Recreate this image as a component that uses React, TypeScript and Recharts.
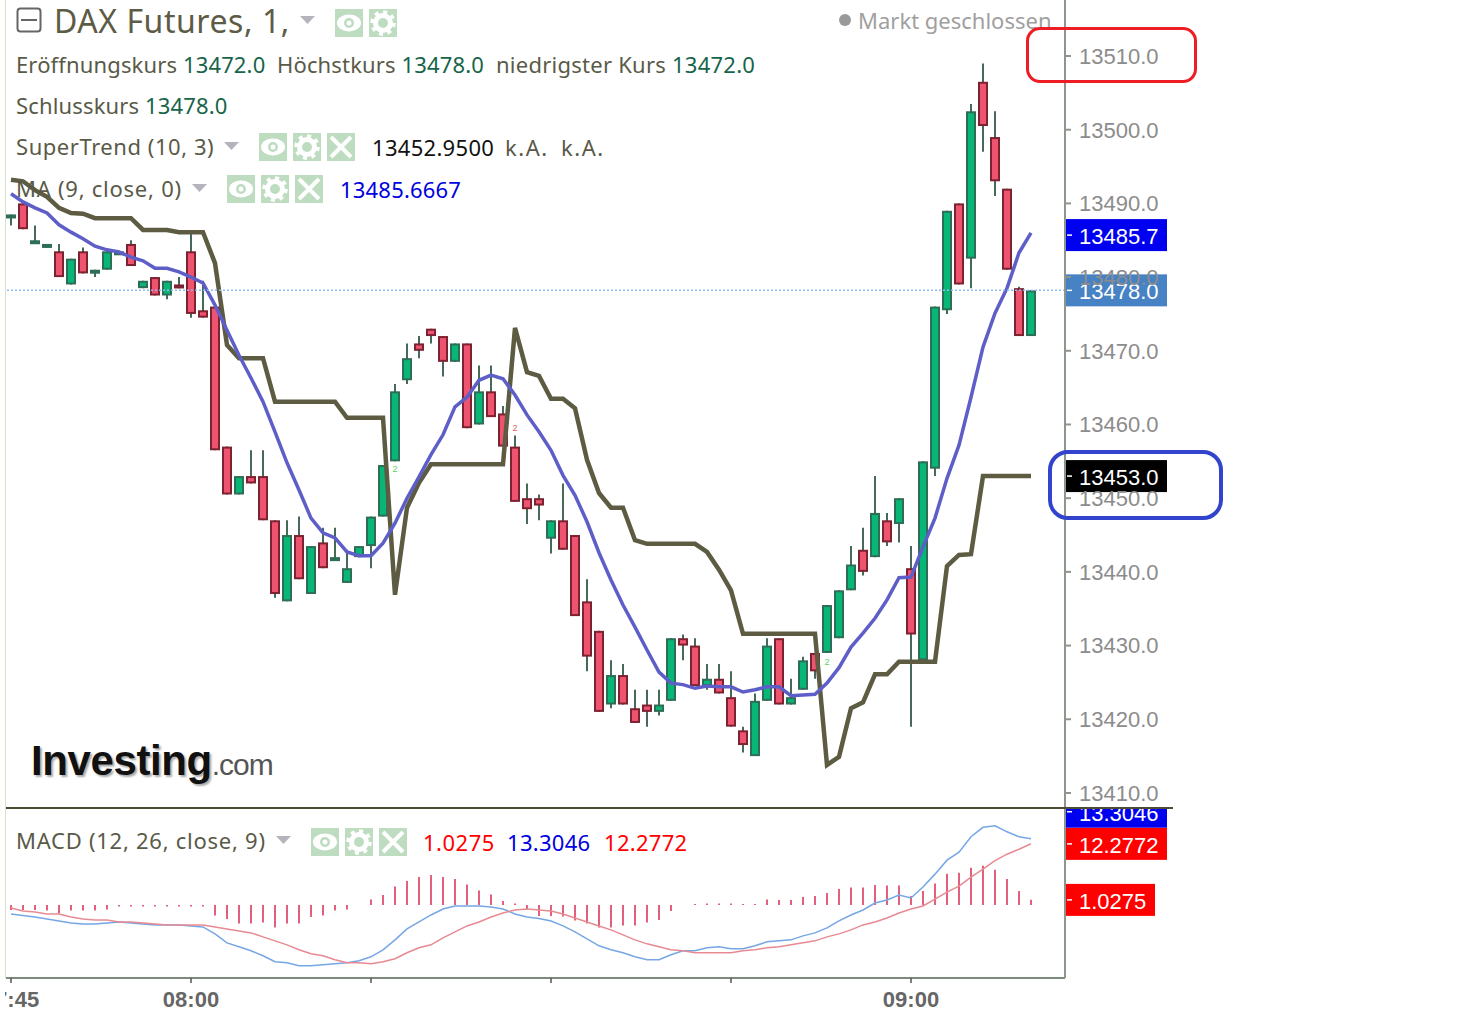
import React from "react";
import { ComposedChart, Bar, Line, XAxis, YAxis, ReferenceLine, ReferenceDot } from "recharts";

const opens = [13488,13490,13484.5,13484,13483.5,13479,13483.5,13480.5,13481,13483,13484.5,13478.5,13480,13477.5,13479,13483.5,13475.5,13476,13457,13450.5,13453,13453,13447,13436,13445,13437,13444,13441.5,13438.5,13442,13443.5,13447.5,13455,13466,13471,13473,13472,13468.5,13471,13460,13464.5,13461.5,13457,13450,13450,13444.5,13447,13445,13436,13432,13422,13426,13421.5,13422,13421,13422.5,13431,13430,13424.5,13425.5,13423,13418.5,13415,13422.5,13431,13422,13424,13429,13429,13431,13437.5,13443,13442,13447,13446.5,13440.5,13428,13454,13475.5,13490,13482.5,13506.5,13499,13492,13478.5,13472];
const highs = [13488.5,13490,13487,13484.5,13484.5,13482.5,13484,13481,13483.5,13483.5,13485,13479.5,13480,13479.5,13480,13486,13479.5,13476,13457,13453,13456.5,13456.5,13447,13447,13447.5,13443.5,13446,13446,13443,13443.5,13447.5,13454.5,13465.5,13471,13472,13473,13472,13471,13471,13468,13468,13462.5,13458.5,13452,13450.5,13447,13452,13445,13439,13432,13428,13427.5,13424,13424,13424,13431,13431.5,13431,13427.5,13427.5,13426.5,13419,13423.5,13431,13431,13425.5,13428.5,13429,13435.5,13437.5,13443.5,13446,13453,13448,13450,13443.5,13455,13476,13489,13490,13503.5,13509,13502.5,13492,13478.7,13478.2];
const lows = [13487,13486.5,13484.5,13484,13480,13479,13480.5,13480,13481,13483,13481.5,13478.5,13477.5,13477,13478.5,13474.5,13474.5,13456.5,13450.5,13450.5,13452,13447,13436.5,13436,13439,13437,13440.5,13441.5,13438.5,13442,13440.5,13447.5,13455,13465.5,13469,13471,13466.5,13468.5,13459.5,13460,13461,13457,13449.5,13446.5,13447,13442.5,13443,13434,13426.5,13421,13421.5,13422,13419.5,13419,13420.5,13422.5,13428,13424.5,13424,13423.5,13419,13415.5,13415,13422.5,13422,13422,13424,13425.5,13429,13431,13437.5,13439.5,13442,13443.5,13444,13419,13428,13453,13475,13479,13478.5,13497,13491,13481,13472,13472];
const closes = [13488.5,13486.5,13485,13484.5,13480,13482.5,13480.5,13481,13483.5,13483.5,13481.5,13479.5,13477.5,13479.5,13478.5,13475,13474.5,13456.5,13450.5,13453,13452,13447,13437,13445,13439,13443.5,13440.5,13442,13440.5,13443.5,13447.5,13454.5,13464.5,13469,13470,13472,13468.5,13471,13459.5,13464.5,13461,13457,13449.5,13448.5,13449,13447,13443,13434,13428.5,13421,13426,13422,13419.5,13421,13422,13431,13430,13424.5,13425.5,13423.5,13419,13416.5,13422.5,13430,13422,13423,13428,13426.5,13435.5,13437.5,13441,13440,13448,13444,13450,13431.5,13455,13476,13489,13479,13502.5,13500.5,13493,13481,13472,13478.2];
const superTrend = [13493.2,13493,13491.8,13490.9,13489.4,13488.7,13488.6,13488,13488,13488,13488,13486.4,13486.4,13486.4,13486.1,13486.1,13486.1,13481.9,13470.8,13469,13469,13469,13463.1,13463.1,13463.1,13463.1,13463.1,13463.1,13460.9,13460.9,13460.9,13460.9,13436.9,13448.7,13452.1,13454.6,13454.6,13454.6,13454.6,13454.6,13454.6,13454.6,13473.1,13467.1,13466.6,13463.5,13463.5,13462.2,13455.2,13450.7,13448.7,13448.7,13444.3,13443.8,13443.8,13443.8,13443.8,13443.8,13442.7,13440.3,13437.5,13431.6,13431.6,13431.6,13431.6,13431.6,13431.6,13431.6,13413.8,13414.9,13421.5,13422.3,13426.1,13426.1,13427.8,13427.8,13427.8,13427.8,13440.8,13442.3,13442.4,13453,13453,13453,13453,13453];
const movingAverage = [13491.3,13490.2,13489.4,13488.7,13487.1,13486.1,13485.2,13484.2,13483.7,13483.4,13482.7,13482.2,13481.2,13481.2,13480.7,13480,13479.2,13476.2,13472.8,13469.4,13466.3,13463.1,13459,13454.8,13451.1,13447.3,13445.3,13444.6,13442.7,13442.2,13442.2,13443.9,13446.6,13450,13452.9,13455.9,13458.6,13462.4,13463.7,13466,13466.7,13466.2,13464,13461.3,13459,13456.5,13453.1,13450.4,13446.8,13442.6,13438.9,13435.5,13432.5,13429.4,13426.4,13424.9,13424.7,13424.2,13424.5,13424.4,13424.4,13423.7,13424,13424.4,13424.4,13423.2,13423.3,13423.4,13424.9,13427,13429.8,13431.7,13433.7,13436.2,13439.2,13439.3,13443.4,13447.3,13452.7,13457.2,13463.7,13470.5,13475.1,13478.5,13483.3,13486];
const macdLine = [-1.8,-2.1,-2.4,-2.8,-3.2,-3.6,-3.8,-3.8,-3.6,-3.4,-3.6,-3.8,-4,-4,-4,-4.2,-4.4,-5.8,-7.6,-8.4,-9.2,-10.2,-11.4,-11.6,-12.2,-12.2,-12,-11.8,-11.6,-11.2,-10.4,-9,-7,-4.8,-3.4,-2,-0.8,-0.2,-0.2,-0.2,-0.4,-0.8,-1.8,-2.4,-2.7,-3.2,-4.2,-5.4,-6.8,-8.2,-9,-9.6,-10.4,-11,-11,-10,-9.2,-9.2,-8.6,-8.4,-8.8,-8.8,-8.2,-7.4,-7.2,-7,-6.2,-5.6,-4.6,-3.2,-2,-1,0.4,1,2,1.4,3.6,6.2,9,10.6,13.7,15.6,15.9,14.7,13.7,13.3];
const signalLine = [-0.6,-1.2,-1.4,-1.8,-1.8,-2.4,-2.8,-3,-3,-3.4,-3.4,-3.6,-3.8,-4,-4,-4,-4,-4.4,-4.8,-5.2,-5.6,-6.4,-7.2,-8,-9,-9.8,-10.2,-11,-11.6,-11.6,-11.8,-11.4,-10.8,-9.6,-8.6,-8,-6.6,-5.4,-4.2,-3.4,-2.4,-1.6,-1,-0.8,-1,-1.2,-1.8,-2.6,-3.4,-4.2,-5,-6,-7,-7.8,-8.4,-9,-9.2,-9.6,-9.6,-9.6,-9.6,-9.2,-9,-8.6,-8.4,-8,-7.6,-7.2,-6.4,-5.8,-5,-4,-3.4,-2.6,-1.6,-0.8,-0.2,1.2,2.6,3.8,5.6,7.2,8.9,10.2,11.2,12.3];
const histogram = [-1,-1,-1,-1.1,-1.7,-1.1,-1.1,-1.1,-0.9,-0.3,-0.3,-0.3,-0.3,-0.3,-0.3,-0.3,-0.3,-2.1,-2.8,-3.7,-3.7,-3.5,-4.5,-3.7,-3.7,-2.4,-2.1,-1.1,-0.9,0,1.1,2,3.7,4.8,5.6,6,5.6,5.2,4.1,2.9,2.1,0.8,0.3,-1,-2.2,-2.2,-2.3,-3.1,-3.7,-4.5,-4.5,-4.1,-4.1,-3.5,-3,-1.2,0,0.2,0.3,0.3,0.3,0.2,0.2,1.1,1,1,1.6,1.8,2.4,3.2,3.5,3.5,4,3.9,3.9,1.8,2.8,4.3,6.3,6.5,7.5,7.9,7.1,5.2,2.8,1.03];
const tickIndices = [0, 15, 30, 45, 60, 75];
const tickTimes = ["07:45", "08:00", "", "", "", "09:00"];
const priceTicks = [13410,13420,13430,13440,13450,13460,13470,13480,13490,13500,13510];

const priceData = opens.map((open, i) => ({ i, open, high: highs[i], low: lows[i], close: closes[i], st: superTrend[i], ma: movingAverage[i] }));
const macdData = macdLine.map((macd, i) => ({ i, macd, signal: signalLine[i], hist: histogram[i] }));

const AX = "Liberation Sans, Arial, sans-serif";
const UI = "'Noto Sans', sans-serif";
const X_DOMAIN = [-5 / 12, 1054 / 12];

const Candle = (p: any) => {
  const { x, y, width, height, payload } = p;
  const k = height / (payload.high - payload.low);
  const cx = x + width / 2;
  const top = y + (payload.high - Math.max(payload.open, payload.close)) * k;
  const bot = y + (payload.high - Math.min(payload.open, payload.close)) * k;
  const up = payload.close >= payload.open;
  return (
    <g>
      <line x1={cx} x2={cx} y1={y} y2={y + height} stroke="#47695a" strokeWidth={2} />
      <rect x={cx - 4} y={top + 1} width={8} height={Math.max(bot - top - 2, 2)}
        fill={up ? "#08b678" : "#ee5470"} stroke={up ? "#2f6e56" : "#7d2230"} strokeWidth={2} />
    </g>
  );
};

const Badge = (p: any) => {
  const { viewBox, text, fill, w = 102, shift = 0 } = p;
  const x = viewBox.x + viewBox.width;
  const y = viewBox.y + shift;
  return (
    <g>
      <rect x={x} y={y - 16} width={w} height={32} fill={fill} />
      <line x1={x + 2} x2={x + 7} y1={y} y2={y} stroke="#fff" strokeWidth={1.5} />
      <text x={x + 14} y={y + 9} fill="#fff" fontFamily={AX} fontSize={22}>{text}</text>
    </g>
  );
};

const Tag = ({ x, y, color, size = 22, ls = 0, children }: any) => (
  <div style={{ position: "absolute", left: x, top: y, transform: "translateY(-50%)", color, fontSize: size, letterSpacing: ls, fontFamily: UI, whiteSpace: "nowrap", lineHeight: 1 }}>{children}</div>
);

const Tri = ({ x, y }: any) => (
  <svg style={{ position: "absolute", left: x, top: y }} width={15} height={8}><path d="M0 0H15L7.5 8Z" fill="#b4b4bc" /></svg>
);

const Icon = ({ x, y, kind }: any) => (
  <svg style={{ position: "absolute", left: x, top: y }} width={28} height={28}>
    <rect width={28} height={28} fill="#bddcc0" />
    {kind === "eye" && <g><ellipse cx={14} cy={14} rx={12} ry={8.5} fill="#fff" /><circle cx={14} cy={14} r={5} fill="#bddcc0" /><circle cx={14} cy={14} r={2.5} fill="#fff" /></g>}
    {kind === "gear" && <g><circle cx={14} cy={14} r={7.5} fill="none" stroke="#fff" strokeWidth={5} /><circle cx={14} cy={14} r={11} fill="none" stroke="#fff" strokeWidth={3.5} strokeDasharray="4 4.6" /></g>}
    {kind === "x" && <path d="M4 4L24 24M24 4L4 24" stroke="#fff" strokeWidth={4} />}
  </svg>
);

const Icons = ({ x, y, kinds }: any) => (
  <>{kinds.map((k: string, i: number) => <Icon key={i} x={x + i * 34} y={y} kind={k} />)}</>
);

const GREEN = "#17644a";
const LABEL = "#5a5a48";
const ALL = ["eye", "gear", "x"];

export default function App() {
  return (
    <div style={{ position: "absolute", left: 0, top: 0, width: 1458, height: 1011, background: "#fff", overflow: "hidden" }}>
      <div style={{ position: "absolute", left: 5, top: 0, width: 1, height: 978, background: "#d3e4c4" }} />

      <div style={{ position: "absolute", left: 5, top: 0 }}>
        <ComposedChart width={1453} height={808} data={priceData} margin={{ top: 0, right: 0, bottom: 0, left: 1 }}>
          <XAxis dataKey="i" type="number" domain={X_DOMAIN} allowDataOverflow hide />
          <YAxis orientation="right" width={393} domain={[13407.96, 13517.6]} allowDataOverflow ticks={priceTicks} interval={0}
            tickFormatter={(v: number) => v.toFixed(1)} tickSize={6} tickMargin={8}
            tick={{ fill: "#8c8c8c", fontFamily: AX, fontSize: 22 }}
            axisLine={{ stroke: "#8c968c", strokeWidth: 2 }} tickLine={{ stroke: "#8c968c", strokeWidth: 2 }} />
          <Line dataKey="st" stroke="#5d5b42" strokeWidth={4.5} dot={false} isAnimationActive={false} />
          <Line dataKey="ma" stroke="#5e5ec8" strokeWidth={3.5} dot={false} isAnimationActive={false} />
          <Bar dataKey={(d: any) => [d.low, d.high]} barSize={10} shape={Candle} isAnimationActive={false} />
          <ReferenceLine y={13478.2} stroke="#8fbcf0" strokeWidth={1.5} strokeDasharray="2 2" label={<Badge text="13478.0" fill="#4682c4" />} />
          <ReferenceLine y={13485.7} stroke="none" label={<Badge text="13485.7" fill="#0000f0" />} />
          <ReferenceLine y={13453} stroke="none" label={<Badge text="13453.0" fill="#000" />} />
          <ReferenceDot x={32} y={13454} r={0} stroke="none" label={{ value: "2", fill: "#5ad35a", fontSize: 9, fontFamily: AX }} />
          <ReferenceDot x={42} y={13459.5} r={0} stroke="none" label={{ value: "2", fill: "#e35c5c", fontSize: 9, fontFamily: AX }} />
          <ReferenceDot x={68} y={13427.8} r={0} stroke="none" label={{ value: "2", fill: "#5ad35a", fontSize: 9, fontFamily: AX }} />
        </ComposedChart>
      </div>

      <div style={{ position: "absolute", left: 5, top: 808 }}>
        <ComposedChart width={1453} height={203} data={macdData} margin={{ top: 0, right: 0, bottom: 0, left: 1 }}>
          <XAxis dataKey="i" type="number" domain={X_DOMAIN} allowDataOverflow ticks={tickIndices} interval={0} height={33}
            tickFormatter={(v: number) => tickTimes[tickIndices.indexOf(v)]} tickSize={5} tickMargin={8}
            tick={{ fill: "#666", fontFamily: AX, fontSize: 22, fontWeight: 700 }}
            axisLine={{ stroke: "#7b8a7b", strokeWidth: 2 }} tickLine={{ stroke: "#555", strokeWidth: 1.5 }} />
          <YAxis orientation="right" width={393} domain={[-14.66, 19.48]} allowDataOverflow tick={false} tickLine={false}
            axisLine={{ stroke: "#8c968c", strokeWidth: 2 }} />
          <Bar dataKey="hist" barSize={2} fill="#e3607c" isAnimationActive={false} />
          <Line dataKey="macd" stroke="#76a6e6" strokeWidth={1.5} dot={false} isAnimationActive={false} />
          <Line dataKey="signal" stroke="#e78a92" strokeWidth={1.5} dot={false} isAnimationActive={false} />
          <ReferenceLine y={13.3046} stroke="none" label={<Badge text="13.3046" fill="#0000f0" shift={-27} />} />
          <ReferenceLine y={12.2772} stroke="none" label={<Badge text="12.2772" fill="#f00" />} />
          <ReferenceLine y={1.0275} stroke="none" label={<Badge text="1.0275" fill="#f00" w={90} />} />
        </ComposedChart>
      </div>

      <div style={{ position: "absolute", left: 6, top: 807, width: 1167, height: 2, background: "#4d4b34" }} />

      <svg style={{ position: "absolute", left: 16, top: 7 }} width={27} height={26}>
        <rect x={1.5} y={1.5} width={23} height={23} rx={3} fill="none" stroke="#666" strokeWidth={2} />
        <line x1={5} x2={21} y1={13} y2={13} stroke="#666" strokeWidth={2} />
      </svg>
      <Tag x={54} y={21} color="#5d5b45" size={32} ls={0.55}>DAX Futures, 1,</Tag>
      <Tri x={300} y={16} />
      <Icons x={335} y={9} kinds={["eye", "gear"]} />
      <div style={{ position: "absolute", left: 839, top: 14, width: 12, height: 12, borderRadius: 6, background: "#999" }} />
      <Tag x={858} y={19.5} color="#a0a0a0">Markt geschlossen</Tag>

      <Tag x={16} y={64} color={LABEL} ls={0.14}>Eröffnungskurs <span style={{ color: GREEN }}>13472.0</span></Tag>
      <Tag x={277} y={64} color={LABEL} ls={0.15}>Höchstkurs <span style={{ color: GREEN }}>13478.0</span></Tag>
      <Tag x={496} y={64} color={LABEL} ls={0.25}>niedrigster Kurs <span style={{ color: GREEN }}>13472.0</span></Tag>
      <Tag x={16} y={105} color={LABEL} ls={0.15}>Schlusskurs <span style={{ color: GREEN }}>13478.0</span></Tag>

      <Tag x={16} y={146} color={LABEL} ls={0.55}>SuperTrend (10, 3)</Tag>
      <Tri x={224} y={142} />
      <Icons x={259} y={133} kinds={ALL} />
      <Tag x={372} y={147} color="#111" ls={0.3}>13452.9500</Tag>
      <Tag x={505} y={147} color={LABEL} ls={1.5}>k.A.</Tag>
      <Tag x={561} y={147} color={LABEL} ls={1.5}>k.A.</Tag>

      <Tag x={16} y={188} color={LABEL} ls={0.75}>MA (9, close, 0)</Tag>
      <Tri x={192} y={184} />
      <Icons x={227} y={175} kinds={ALL} />
      <Tag x={340} y={189} color="#0000e0" ls={0.2}>13485.6667</Tag>

      <Tag x={16} y={840} color={LABEL} ls={0.74}>MACD (12, 26, close, 9)</Tag>
      <Tri x={276} y={836} />
      <Icons x={311} y={828} kinds={ALL} />
      <Tag x={423} y={842} color="#f00" ls={0.5}>1.0275</Tag>
      <Tag x={507} y={842} color="#0000e0" ls={0.3}>13.3046</Tag>
      <Tag x={604} y={842} color="#f00" ls={0.3}>12.2772</Tag>

      <div style={{ position: "absolute", left: 31, top: 735, fontFamily: AX, color: "#111", whiteSpace: "nowrap", lineHeight: "52px", textShadow: "2px 2px 2px #aaa" }}>
        <span style={{ fontSize: 42, fontWeight: 700, letterSpacing: -0.4 }}>Investing</span>
        <span style={{ fontSize: 30, color: "#555", letterSpacing: -1, textShadow: "none" }}>.com</span>
      </div>

      <div style={{ position: "absolute", left: 1026, top: 27, width: 165, height: 50, border: "3px solid #ee1c24", borderRadius: 14 }} />
      <div style={{ position: "absolute", left: 1048, top: 450, width: 167, height: 62, border: "4px solid #3344cc", borderRadius: 20 }} />
    </div>
  );
}
